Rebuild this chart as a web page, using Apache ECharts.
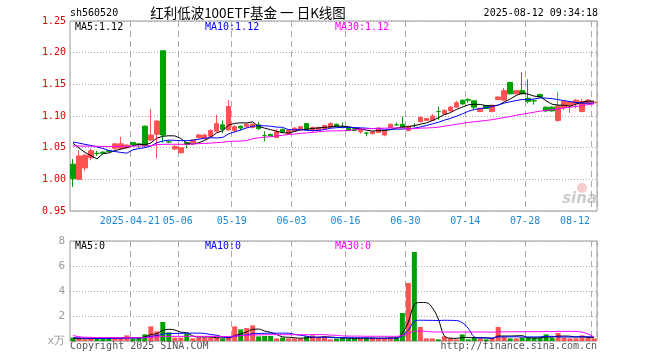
<!DOCTYPE html>
<html><head><meta charset="utf-8">
<script src="https://cdn.jsdelivr.net/npm/echarts@6/dist/echarts.min.js"></script>
<style>html,body{margin:0;padding:0;background:#fff}#c{width:660px;height:360px}</style>
</head><body><div id="c"></div>
<script>
// ---- data ----
const categories = [
 '04-07','04-08','04-09','04-10','04-11','04-14','04-15','04-16','04-17','04-18','04-21','04-22','04-23','04-24','04-25','04-28','04-29','04-30',
 '05-06','05-07','05-08','05-09','05-12','05-13','05-14','05-15','05-16','05-19','05-20','05-21','05-22','05-23','05-26','05-27','05-28','05-29','05-30',
 '06-03','06-04','06-05','06-06','06-09','06-10','06-11','06-12','06-13','06-16','06-17','06-18','06-19','06-20','06-23','06-24','06-25','06-26','06-27','06-30',
 '07-01','07-02','07-03','07-04','07-07','07-08','07-09','07-10','07-11','07-14','07-15','07-16','07-17','07-18','07-21','07-22','07-23','07-24','07-25','07-28','07-29','07-30','07-31',
 '08-01','08-04','08-05','08-06','08-07','08-08','08-11','08-12'
];
const tickLabels = ['2025-04-21','05-06','05-19','06-03','06-16','06-30','07-14','07-28','08-12'];
const openP = [1.024,1.000,1.018,1.034,1.041,1.043,1.045,1.049,1.049,1.050,1.058,1.056,1.084,1.062,1.071,1.203,1.059,1.048,1.042,1.058,1.058,1.066,1.064,1.068,1.076,1.086,1.078,1.077,1.084,1.083,1.082,1.086,1.069,1.071,1.066,1.079,1.071,1.076,1.078,1.088,1.078,1.078,1.080,1.082,1.087,1.083,1.082,1.080,1.075,1.073,1.072,1.074,1.070,1.082,1.086,1.087,1.077,1.085,1.091,1.093,1.093,1.107,1.103,1.108,1.114,1.125,1.126,1.124,1.107,1.116,1.107,1.126,1.125,1.153,1.135,1.140,1.128,1.124,1.134,1.114,1.114,1.093,1.113,1.116,1.119,1.107,1.120,1.121];
const closeP = [1.001,1.037,1.038,1.045,1.041,1.041,1.044,1.056,1.056,1.054,1.055,1.055,1.053,1.070,1.092,1.070,1.059,1.052,1.050,1.055,1.062,1.070,1.070,1.077,1.088,1.079,1.115,1.083,1.081,1.087,1.087,1.080,1.069,1.069,1.075,1.075,1.078,1.081,1.083,1.078,1.082,1.082,1.085,1.088,1.083,1.082,1.077,1.077,1.079,1.073,1.075,1.081,1.076,1.087,1.086,1.082,1.084,1.085,1.098,1.096,1.100,1.107,1.109,1.114,1.121,1.119,1.125,1.114,1.112,1.112,1.117,1.130,1.140,1.135,1.140,1.135,1.123,1.124,1.130,1.108,1.108,1.116,1.123,1.122,1.125,1.123,1.125,1.122];
const lowP = [0.988,0.999,1.013,1.030,1.037,1.040,1.043,1.046,1.047,1.048,1.054,1.050,1.051,1.060,1.033,1.058,1.057,1.046,1.041,1.049,1.057,1.064,1.063,1.066,1.075,1.073,1.077,1.074,1.077,1.082,1.080,1.078,1.060,1.068,1.065,1.073,1.070,1.075,1.077,1.077,1.074,1.077,1.079,1.081,1.082,1.080,1.076,1.076,1.072,1.068,1.071,1.073,1.068,1.081,1.085,1.081,1.076,1.082,1.090,1.092,1.092,1.094,1.102,1.107,1.113,1.118,1.121,1.109,1.106,1.111,1.106,1.125,1.124,1.134,1.134,1.134,1.120,1.118,1.129,1.106,1.107,1.091,1.109,1.105,1.112,1.106,1.119,1.120];
const highP = [1.032,1.046,1.040,1.049,1.045,1.044,1.046,1.057,1.067,1.056,1.059,1.056,1.085,1.111,1.094,1.203,1.062,1.054,1.051,1.059,1.063,1.072,1.072,1.079,1.102,1.093,1.125,1.086,1.085,1.089,1.088,1.091,1.076,1.072,1.079,1.080,1.079,1.082,1.084,1.089,1.083,1.083,1.086,1.090,1.088,1.090,1.083,1.081,1.080,1.075,1.076,1.082,1.077,1.088,1.090,1.099,1.085,1.089,1.099,1.097,1.103,1.115,1.110,1.116,1.124,1.126,1.128,1.125,1.113,1.117,1.118,1.131,1.144,1.154,1.141,1.169,1.158,1.127,1.135,1.115,1.115,1.138,1.124,1.123,1.127,1.127,1.127,1.123];
const volume = [0.27,0.19,0.13,0.19,0.27,0.27,0.27,0.19,0.19,0.45,0.19,0.27,0.53,1.17,0.77,1.52,0.69,0.27,0.27,0.59,0.21,0.27,0.27,0.27,0.27,0.19,0.27,1.17,0.93,1.04,1.25,0.37,0.40,0.40,0.21,0.27,0.21,0.21,0.21,0.37,0.45,0.27,0.37,0.13,0.19,0.27,0.19,0.19,0.19,0.27,0.27,0.21,0.21,0.27,0.27,2.24,4.64,7.12,1.12,0.21,0.21,0.13,0.37,0.21,0.13,0.53,0.13,0.32,0.21,0.13,0.21,1.12,0.32,0.21,0.21,0.27,0.27,0.27,0.27,0.53,0.27,0.64,0.27,0.21,0.21,0.45,0.27,0.21];
// closes / volumes before the visible window (estimated from where the MA lines start)
const priorCloses = [1.045,1.047,1.048,1.046,1.049,1.050,1.052,1.051,1.049,1.048,1.050,1.052,1.053,1.051,1.050,1.052,1.054,1.053,1.052,1.048,1.055,1.058,1.062,1.064,1.066,1.075,1.073,1.070,1.066];
const priorVolumes = [3.0,1.5,0.4,0.9,0.3,0.3,0.35,0.3,0.3,0.25,0.3,0.3,0.25,0.3,0.3,0.25,0.3,0.3,0.25,0.3,0.4,0.35,0.35,0.3,0.35,0.2,0.15,0.18,0.15];
const maPeriods = [5, 10, 30];
const maColors = ['#000000', '#0000ff', '#ff00ff'];
const priceAxis = { min: 0.95, max: 1.25, interval: 0.05 };
const volAxis = { min: 0, max: 8, interval: 2 };

const RED = '#ff5252', GREEN = '#00a000';
const MONO = '"DejaVu Sans Mono", monospace';

function movingAvg(series, prior, n) {
  const all = prior.concat(series);
  return series.map((_, i) => {
    const end = prior.length + i;
    let s = 0;
    for (let k = end - n + 1; k <= end; k++) s += all[k];
    return +(s / n).toFixed(4);
  });
}

const kData = openP.map((o, i) => [o, closeP[i], lowP[i], highP[i]]);
const priceMA = maPeriods.map(n => movingAvg(closeP, priorCloses, n));
const volMA = maPeriods.map(n => movingAvg(volume, priorVolumes, n));
const volData = volume.map((v, i) => ({ value: v, itemStyle: { color: closeP[i] > openP[i] ? RED : GREEN } }));

const tickMap = {};
tickLabels.forEach(l => { tickMap[categories.indexOf(l.slice(-5))] = l; });
const isTick = (i) => tickMap[i] !== undefined;
const lastIdx = categories.length - 1;

const chart = echarts.init(document.getElementById('c'), null, { renderer: 'canvas' });
const labStyle = { color: '#1a88d8', fontFamily: MONO, fontSize: 10 };

const xBase = {
  type: 'category', data: categories, boundaryGap: true,
  axisLine: { show: false }, axisTick: { show: false },
  splitLine: { show: true, interval: (i) => isTick(i), lineStyle: { color: '#aaaaaa', type: [6, 4], width: 1 } }
};

const option = {
  animation: false,
  backgroundColor: '#ffffff',
  grid: [
    { left: 70, top: 21, width: 527, height: 190, show: true, borderColor: '#999999', borderWidth: 1 },
    { left: 70, top: 241, width: 527, height: 100, show: true, borderColor: '#999999', borderWidth: 1 }
  ],
  xAxis: [
    Object.assign({}, xBase, {
      gridIndex: 0,
      axisLabel: {
        interval: (i) => isTick(i), margin: 5,
        formatter: (v, i) => (i === lastIdx ? '{e|' : '{n|') + tickMap[i] + '}',
        rich: {
          n: Object.assign({ padding: [0, 6, 0, 0] }, labStyle),
          e: Object.assign({ padding: [0, 38, 0, 0] }, labStyle)
        }
      }
    }),
    Object.assign({}, xBase, { gridIndex: 1, axisLabel: { show: false } })
  ],
  yAxis: [
    {
      type: 'value', gridIndex: 0, min: priceAxis.min, max: priceAxis.max, interval: priceAxis.interval,
      axisLine: { show: false }, axisTick: { show: false },
      axisLabel: { color: '#e00000', fontFamily: MONO, fontSize: 10, margin: 4, formatter: v => v.toFixed(2) },
      splitLine: { lineStyle: { color: '#aaaaaa', type: [1, 2] } }
    },
    {
      type: 'value', gridIndex: 1, min: volAxis.min, max: volAxis.max, interval: volAxis.interval,
      axisLine: { show: false }, axisTick: { show: false },
      axisLabel: { color: '#999999', fontFamily: MONO, fontSize: 11, margin: 5, formatter: v => v === 0 ? 'x万' : String(v) },
      splitLine: { lineStyle: { color: '#aaaaaa', type: [1, 2] } }
    }
  ],
  series: [
    {
      type: 'candlestick', xAxisIndex: 0, yAxisIndex: 0, data: kData, barWidth: 5,
      itemStyle: { color: RED, color0: GREEN, borderColor: RED, borderColor0: GREEN, borderColorDoji: GREEN, borderWidth: 1 }
    },
    ...priceMA.map((d, k) => ({
      type: 'line', xAxisIndex: 0, yAxisIndex: 0, data: d, symbol: 'none', z: 3,
      lineStyle: { color: maColors[k], width: 1 }
    })),
    { type: 'bar', xAxisIndex: 1, yAxisIndex: 1, data: volData, barWidth: 5 },
    ...volMA.map((d, k) => ({
      type: 'line', xAxisIndex: 1, yAxisIndex: 1, data: d, symbol: 'none', smooth: 0.4, z: 3,
      lineStyle: { color: maColors[k], width: 1 }
    }))
  ],
  graphic: [
    { type: 'text', x: 70, y: 13, style: { text: 'sh560520', font: '10px ' + MONO, fill: '#000', verticalAlign: 'middle' } },
    { type: 'text', x: 248, y: 13, style: { text: '红利低波100ETF基金 一 日K线图', font: '13.5px "Noto Sans CJK SC"', fill: '#000', align: 'center', verticalAlign: 'middle' } },
    { type: 'text', x: 598, y: 13, style: { text: '2025-08-12 09:34:18', font: '10px ' + MONO, fill: '#000', align: 'right', verticalAlign: 'middle' } },
    ...maPeriods.map((n, k) => ({ type: 'text', x: 75 + 130 * k, y: 27, z: 10, style: { text: 'MA' + n + ':' + priceMA[k][lastIdx].toFixed(2), font: '10px ' + MONO, fill: maColors[k], verticalAlign: 'middle' } })),
    ...maPeriods.map((n, k) => ({ type: 'text', x: 75 + 130 * k, y: 246, z: 10, style: { text: 'MA' + n + ':0', font: '10px ' + MONO, fill: maColors[k], verticalAlign: 'middle' } })),
    { type: 'circle', shape: { cx: 582, cy: 188, r: 5 }, z: 0, style: { fill: '#f6cccc' } },
    { type: 'text', x: 597, y: 199, z: 0, style: { text: 'sina', font: 'italic bold 15px "DejaVu Sans"', fill: '#cccccc', align: 'right', verticalAlign: 'middle' } },
    { type: 'text', x: 70, y: 346, style: { text: 'Copyright 2025 SINA.COM', font: '10px ' + MONO, fill: '#555', verticalAlign: 'middle' } },
    { type: 'text', x: 597, y: 346, style: { text: 'http://finance.sina.com.cn', font: '10px ' + MONO, fill: '#555', align: 'right', verticalAlign: 'middle' } }
  ]
};
chart.setOption(option);
</script>
</body></html>
